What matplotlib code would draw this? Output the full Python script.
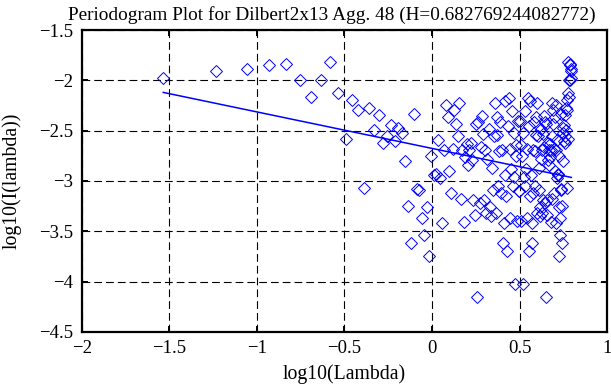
import numpy as np
import matplotlib
matplotlib.use("Agg")
import matplotlib.pyplot as plt

plt.rcParams['font.family'] = ['Liberation Serif', 'DejaVu Serif']

# Fourier frequencies of the aggregated series (periodogram is symmetric about pi)
n_obs = 215
k = np.arange(1, n_obs)
log_lambda = np.log10(2 * np.pi * k / n_obs)

# log10 periodogram values for k = 1..107
log_I_half = [
    -1.98, -1.91, -1.89, -1.85, -1.84, -2.00, -2.17, -2.00, -1.82, -2.13,
    -2.58, -2.20, -2.29, -3.07, -2.27, -2.49, -2.34, -2.62, -2.55, -2.44,
    -2.60, -2.47, -2.52, -2.80, -3.25, -3.62, -2.33, -3.08, -3.09, -3.37,
    -3.54, -3.26, -3.75, -2.75, -2.94, -2.93, -2.59, -2.97, -3.42, -2.69,
    -2.25, -2.36, -2.90, -3.12, -2.68, -2.29, -2.43, -2.55, -2.23, -3.18,
    -2.69, -3.41, -2.76, -2.63, -2.84, -2.69, -2.62, -2.79, -3.19, -3.34,
    -2.43, -4.15, -2.41, -3.22, -2.66, -2.35, -2.53, -3.19, -2.69, -3.32,
    -2.78, -2.48, -3.26, -3.35, -2.87, -3.09, -2.55, -2.23, -3.32, -2.54,
    -2.36, -3.05, -2.70, -2.41, -3.12, -2.69, -3.62, -3.42, -2.94, -2.21,
    -3.15, -3.70, -2.45, -2.18, -3.37, -2.68, -2.88, -2.30, -3.05, -2.96,
    -2.52, -4.02, -2.75, -2.64, -3.40, -2.40, -3.10,
]
log_I = log_I_half + log_I_half[::-1]

# least squares fit line (endpoints as drawn)
fit_x = [-1.535, 0.796]
fit_y = [-2.12, -2.965]

title = "Periodogram Plot for Dilbert2x13 Agg. 48 (H=0.682769244082772)"

fig = plt.figure(figsize=(6.11, 3.85), dpi=100)
ax = fig.add_axes([0.134, 0.138, 0.8595, 0.784])

ax.plot(log_lambda, log_I, linestyle='none', marker='D', markersize=6.6,
        markerfacecolor='none', markeredgecolor='#0000ff', markeredgewidth=0.7)
ax.plot(fit_x, fit_y, color='#0000ff', linewidth=1.1)

ax.set_xlim(-2, 1)
ax.set_ylim(-4.5, -1.5)
ax.set_xticks([-2, -1.5, -1, -0.5, 0, 0.5, 1])
ax.set_yticks([-4.5, -4, -3.5, -3, -2.5, -2, -1.5])
ax.set_xticklabels(['\u22122', '\u22121.5', '\u22121', '\u22120.5', '0', '0.5', '1'])
ax.set_yticklabels(['\u22124.5', '\u22124', '\u22123.5', '\u22123', '\u22122.5', '\u22122', '\u22121.5'])

ax.grid(True, color='black', linewidth=0.8, linestyle=(0, (7, 3.6)))
for s in ax.spines.values():
    s.set_linewidth(1.6)
ax.tick_params(direction='in', top=True, right=True, length=4, width=1.4,
               labelsize=13.5, pad=6)

ax.set_xlabel("log10(Lambda)", fontsize=14.2, labelpad=5)
ax.set_ylabel("log10(I(lambda))", fontsize=14.2, labelpad=13)
# title is wider than the axes; keep it inside the figure
fig.text(68 / 611, 1 - 20 / 385, title, fontsize=13.9, ha='left', va='baseline')

fig.savefig("out.png", dpi=100)
